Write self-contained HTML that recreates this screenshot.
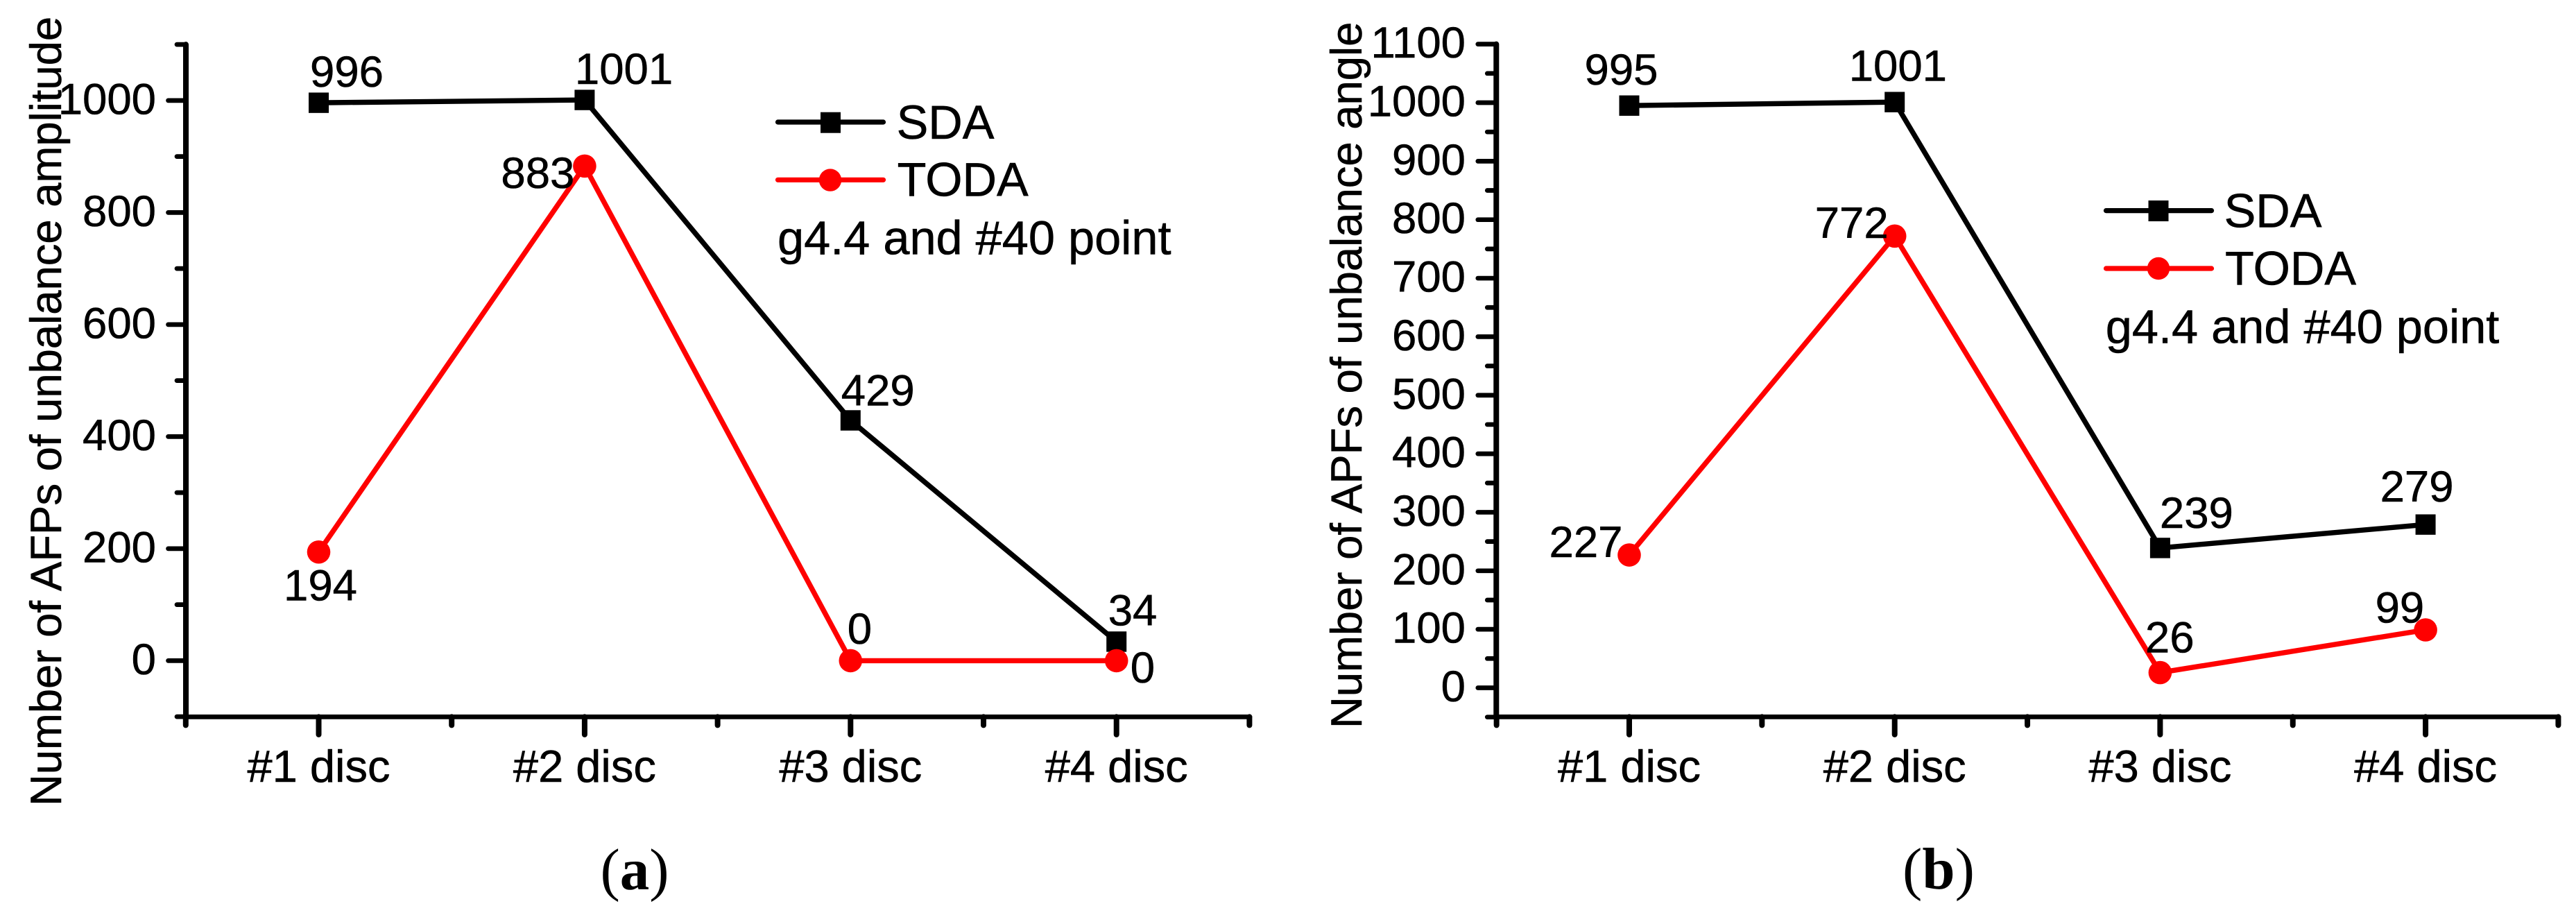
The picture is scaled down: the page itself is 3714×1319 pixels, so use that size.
<!DOCTYPE html>
<html lang="en">
<head>
<meta charset="utf-8">
<title>Number of AFPs and APFs by disc</title>
<style>
html,body{margin:0;padding:0;background:#fff;}
svg{display:block;}
text{font-family:"Liberation Sans",Arial,sans-serif;fill:#000;stroke:#000;stroke-width:.6px;}
.tick,.dl{font-size:63.5px;}
.cat{font-size:65px;}
.leg{font-size:68.5px;}
.title{font-size:63.4px;}
.cap{font-family:"Liberation Serif","Times New Roman",serif;font-size:85px;stroke-width:0;}
</style>
</head>
<body>
<svg id="figure" width="3714" height="1319" viewBox="0 0 3714 1319" xmlns="http://www.w3.org/2000/svg">
  <rect x="0" y="0" width="3714" height="1319" fill="#fff"/>

  <g id="panel-a">
    <text class="title" transform="translate(88,1162) rotate(-90)">Number of AFPs of unbalance amplitude</text>
    <g>
      <g>
        <line x1="1121.5" x2="1273.5" y1="176" y2="176" stroke="#000" stroke-width="7.2" stroke-linecap="round"/>
        <rect x="1183" y="161.7" width="29" height="30" fill="#000"/>
        <text class="leg" x="1292.6" y="200">SDA</text>
      </g>
      <g>
        <line x1="1121.5" x2="1273.5" y1="259.3" y2="259.3" stroke="#f00" stroke-width="7.2" stroke-linecap="round"/>
        <circle cx="1197" cy="259.6" r="16.2" fill="#f00"/>
        <text class="leg" x="1293.6" y="282.7">TODA</text>
      </g>
      <text class="leg" x="1121" y="366.7">g4.4 and #40 point</text>
    </g>
    <text class="cap" x="915" y="1282" text-anchor="middle">(<tspan font-weight="bold">a</tspan>)</text>
  </g>

  <g id="panel-b">
    <text class="title" transform="translate(1963,1050) rotate(-90)">Number of APFs of unbalance angle</text>
    <g>
      <g>
        <line x1="3036.5" x2="3188.5" y1="303.6" y2="303.6" stroke="#000" stroke-width="7.2" stroke-linecap="round"/>
        <rect x="3097.5" y="289" width="29" height="30" fill="#000"/>
        <text class="leg" x="3206.6" y="327.6">SDA</text>
      </g>
      <g>
        <line x1="3036.5" x2="3188.5" y1="387" y2="387" stroke="#f00" stroke-width="7.2" stroke-linecap="round"/>
        <circle cx="3112" cy="387" r="16.2" fill="#f00"/>
        <text class="leg" x="3208" y="410.3">TODA</text>
      </g>
      <text class="leg" x="3035.8" y="494.3">g4.4 and #40 point</text>
    </g>
    <text class="cap" x="2795" y="1281" text-anchor="middle">(<tspan font-weight="bold">b</tspan>)</text>
  </g>
</svg>

<script>
const categories = ["#1 disc", "#2 disc", "#3 disc", "#4 disc"];

const sdaAmplitude = [996, 1001, 429, 34];
const todaAmplitude = [194, 883, 0, 0];
const yTickLabelsA = [0, 200, 400, 600, 800, 1000];
const yMinorTicksA = [-100, 100, 300, 500, 700, 900, 1100];

const sdaAngle = [995, 1001, 239, 279];
const todaAngle = [227, 772, 26, 99];
const yTickLabelsB = [0, 100, 200, 300, 400, 500, 600, 700, 800, 900, 1000, 1100];
const yMinorTicksB = [-50, 50, 150, 250, 350, 450, 550, 650, 750, 850, 950, 1050];

const NS = "http://www.w3.org/2000/svg";

function make(parent, tag, attrs, content) {
  const el = document.createElementNS(NS, tag);
  for (const k in attrs) el.setAttribute(k, attrs[k]);
  if (content !== undefined) el.textContent = content;
  parent.appendChild(el);
  return el;
}

function drawPanel(cfg) {
  const root = document.getElementById(cfg.id);
  const xScale = i => cfg.x0 + cfg.xStep * i;
  const yScale = v => cfg.yZero - cfg.yPerUnit * v;

  const axes = make(root, "g", {});
  
  

  const yAxis = make(axes, "line", {x1: cfg.axisX, x2: cfg.axisX, y1: yScale(cfg.yMax), y2: cfg.axisY, stroke: "#000", "stroke-width": 8, "stroke-linecap": "round"});
  
  

  const xAxis = make(axes, "line", {x1: cfg.axisX, x2: cfg.axisEnd, y1: cfg.axisY, y2: cfg.axisY, stroke: "#000", "stroke-width": 6.7, "stroke-linecap": "round"});
  
  

  cfg.yTicks.forEach(v => {
    const t = make(axes, "line", {x1: cfg.axisX - cfg.majorLen, x2: cfg.axisX, y1: yScale(v), y2: yScale(v), stroke: "#000", "stroke-width": 6.7, "stroke-linecap": "round"});
    
    
    const l = make(axes, "text", {class: "tick", x: cfg.tickLabelX, y: yScale(v) + 19.5, "text-anchor": "end"}, String(v));
    
    
  });

  cfg.yMinor.forEach(v => {
    const t = make(axes, "line", {x1: cfg.axisX - 13, x2: cfg.axisX, y1: yScale(v), y2: yScale(v), stroke: "#000", "stroke-width": 6.7, "stroke-linecap": "round"});
    
    
  });

  categories.forEach((c, i) => {
    const x = xScale(i);
    const t = make(axes, "line", {x1: x, x2: x, y1: cfg.axisY, y2: cfg.axisY + 25.5, stroke: "#000", "stroke-width": 8, "stroke-linecap": "round"});
    
    
    const l = make(axes, "text", {class: "cat", x: x, y: 1127, "text-anchor": "middle"}, c);
    
    
  });

  for (let i = -0.5; i <= categories.length - 0.5; i += 1) {
    const x = xScale(i);
    const t = make(axes, "line", {x1: x, x2: x, y1: cfg.axisY, y2: cfg.axisY + 12, stroke: "#000", "stroke-width": 8, "stroke-linecap": "round"});
    
    
  }

  const sdaGroup = make(root, "g", {});
  
  
  const sdaLine = make(sdaGroup, "polyline", {points: cfg.sda.map((v, i) => xScale(i) + "," + yScale(v)).join(" "), fill: "none", stroke: "#000", "stroke-width": 7.4, "stroke-linejoin": "round"});
  
  
  cfg.sda.forEach((v, i) => {
    const m = make(sdaGroup, "rect", {x: xScale(i) - 14.5, y: yScale(v) - 14.7, width: 29, height: 29.4, fill: "#000"});
    
    
    const l = make(sdaGroup, "text", {class: "dl", x: xScale(i) + cfg.sdaNudge[i][0], y: yScale(v) + cfg.sdaNudge[i][1]}, String(v));
    
    
  });

  const todaGroup = make(root, "g", {});
  
  
  const todaLine = make(todaGroup, "polyline", {points: cfg.toda.map((v, i) => xScale(i) + "," + yScale(v)).join(" "), fill: "none", stroke: "#f00", "stroke-width": 7.4, "stroke-linejoin": "round"});
  
  
  cfg.toda.forEach((v, i) => {
    const m = make(todaGroup, "circle", {cx: xScale(i), cy: yScale(v), r: 16.8, fill: "#f00"});
    
    
    const l = make(todaGroup, "text", {class: "dl", x: xScale(i) + cfg.todaNudge[i][0], y: yScale(v) + cfg.todaNudge[i][1]}, String(v));
    
    
  });
}

drawPanel({
  id: "panel-a", tag: "a",
  x0: 459.5, xStep: 383.4, yZero: 952.4, yPerUnit: 0.8075, yMax: 1100,
  axisX: 268, axisY: 1033.4, axisEnd: 1802, majorLen: 25.5, tickLabelX: 225,
  yTicks: yTickLabelsA, yMinor: yMinorTicksA, sda: sdaAmplitude, toda: todaAmplitude,
  sdaNudge: [[-12.5, -23], [-14, -23], [-13.5, -21.6], [-12, -23.4]],
  todaNudge: [[-50.5, 70], [-120.5, 31.5], [-4.5, -24.5], [20, 31.5]]
});

drawPanel({
  id: "panel-b", tag: "b",
  x0: 2349, xStep: 382.7, yZero: 991.5, yPerUnit: 0.8435, yMax: 1100,
  axisX: 2157.3, axisY: 1033.4, axisEnd: 3689, majorLen: 26.5, tickLabelX: 2113,
  yTicks: yTickLabelsB, yMinor: yMinorTicksB, sda: sdaAngle, toda: todaAngle,
  sdaNudge: [[-64.5, -30.4], [-66, -30.7], [-0.5, -28.7], [-65.5, -33]],
  todaNudge: [[-115.5, 3.2], [-115, 2.6], [-21.5, -29.3], [-72.5, -10.7]]
});
</script>
</body>
</html>
